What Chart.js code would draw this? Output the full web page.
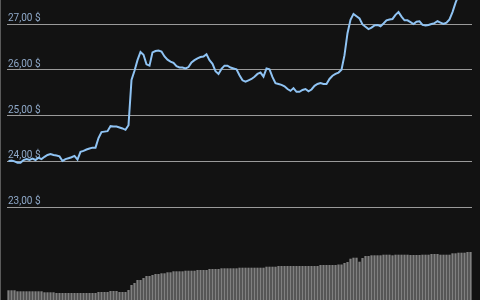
<!DOCTYPE html>
<html><head><meta charset="utf-8">
<script src="https://cdn.jsdelivr.net/npm/chart.js@4/dist/chart.umd.min.js"></script>
<style>html,body{margin:0;padding:0;background:#121212;overflow:hidden}
canvas{display:block}</style></head>
<body><canvas id="c" width="480" height="300"></canvas>
<script>
const prices = [
24.01,24.02,24.00,23.97,23.97,24.03,24.05,24.03,24.06,24.03,
24.08,24.05,24.10,24.14,24.16,24.14,24.13,24.11,24.01,24.05,
24.07,24.09,24.12,24.04,24.21,24.23,24.26,24.28,24.30,24.30,
24.51,24.64,24.65,24.66,24.77,24.76,24.76,24.74,24.72,24.69,
24.79,25.78,25.98,26.21,26.39,26.33,26.12,26.09,26.38,26.41,
26.42,26.40,26.29,26.22,26.18,26.15,26.08,26.05,26.05,26.03,
26.06,26.16,26.21,26.25,26.28,26.29,26.34,26.21,26.13,25.97,
25.91,26.02,26.09,26.09,26.05,26.03,26.01,25.88,25.77,25.74,
25.77,25.80,25.85,25.91,25.94,25.85,26.03,26.01,25.84,25.71,
25.69,25.67,25.64,25.58,25.54,25.60,25.52,25.52,25.56,25.58,
25.53,25.57,25.65,25.69,25.71,25.69,25.69,25.80,25.87,25.91,
25.94,26.00,26.32,26.80,27.09,27.22,27.17,27.12,26.99,26.94,
26.89,26.92,26.97,26.98,26.95,27.01,27.08,27.10,27.11,27.20,
27.26,27.16,27.08,27.08,27.04,27.00,27.05,27.06,26.98,26.97,
26.98,27.00,27.02,27.06,27.03,27.00,27.03,27.10,27.26,27.46,
27.63,27.79,27.92,28.05,28.18
];
const volumes = [
9.7,9.7,9.7,
8.7,8.7,8.7,8.7,8.7,8.7,8.7,8.7,8.7,
7.7,7.7,7.7,7.7,
7,7,7,7,7,7,7,7,7,7,7,7,7,7,
8,8,8,8,
9,9,9,
8,8,8,
10,15,17,20,20,22,24,24,25,26,26,26.7,26.7,27.7,27.7,
28.7,28.7,28.7,28.7,
29.3,29.3,29.3,29.3,
30,30,30,30,
31,31,31,31,
31.7,31.7,31.7,31.7,31.7,31.7,
32.3,32.3,32.3,32.3,32.3,32.3,32.3,32.3,32.3,
33.3,33.3,33.3,33.3,
34,34,34,34,34,34,34,34,34,34,34,34,34,34,
35,35,35,35,35,35,
35.5,35.5,37,38,41.3,42.3,42.3,38.3,42,44,44,
44.7,44.7,44.7,44.7,
45.3,45.3,45.3,44.7,
45.3,45.3,45.3,45.3,45.3,
45,45,45,45,
45.3,45.3,45.3,
46,46,46,
45.3,45.3,45.3,45.3,
46.7,46.7,
47.3,47.3,47.3,
48,48
];
const tickValues = [23, 24, 25, 26, 27];
const categories = prices.map((_, i) => i);
const fmt = v => v.toFixed(2).replace('.', ',') + ' $';

const frame = {
  id: 'frame',
  beforeDraw(chart) {
    const ctx = chart.ctx;
    ctx.save();
    ctx.fillStyle = '#121212';
    ctx.fillRect(0, 0, chart.width, chart.height);
    ctx.restore();
  },
  beforeDatasetsDraw(chart) {
    const ctx = chart.ctx, y = chart.scales.y, left = chart.chartArea.left;
    ctx.save();
    ctx.fillStyle = '#8fa9c9';
    ctx.font = '10px Roboto';
    ctx.textAlign = 'left';
    ctx.textBaseline = 'alphabetic';
    y.ticks.forEach(t => {
      ctx.fillText(fmt(t.value), left + 1, y.getPixelForValue(t.value) - 3);
    });
    ctx.restore();
  },
  afterDraw(chart) {
    const ctx = chart.ctx;
    ctx.save();
    ctx.strokeStyle = '#5a5a5a';
    ctx.lineWidth = 1;
    ctx.beginPath();
    ctx.moveTo(0.5, 0); ctx.lineTo(0.5, chart.height);
    ctx.stroke();
    ctx.restore();
  }
};

new Chart(document.getElementById('c'), {
  type: 'bar',
  data: {
    labels: categories,
    datasets: [
      { type: 'line', data: prices, yAxisID: 'y', borderColor: '#8fc3f3', borderWidth: 2,
        pointRadius: 0, tension: 0, order: 0 },
      { type: 'bar', data: volumes, yAxisID: 'vol', backgroundColor: '#808080',
        barPercentage: 0.75, categoryPercentage: 1, order: 1 }
    ]
  },
  options: {
    responsive: false, animation: false, devicePixelRatio: 1,
    layout: { padding: { left: 7, right: 8, top: 0, bottom: 0 } },
    plugins: { legend: { display: false }, tooltip: { enabled: false } },
    scales: {
      x: { display: false },
      y: {
        position: 'left', min: 20.974, max: 27.524,
        afterBuildTicks(scale) { scale.ticks = tickValues.map(v => ({ value: v })); },
        ticks: { display: false },
        grid: { color: '#9a9a9a', lineWidth: 1, drawTicks: false },
        border: { display: false }
      },
      vol: { display: false, min: 0, max: 300 }
    }
  },
  plugins: [frame]
});
</script></body></html>
